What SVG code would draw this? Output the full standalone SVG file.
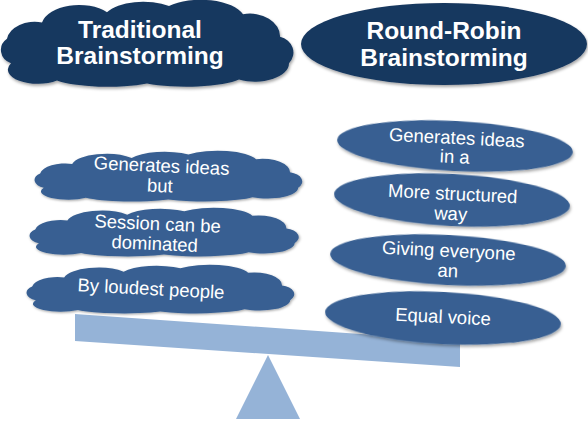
<svg xmlns="http://www.w3.org/2000/svg" width="588" height="421" viewBox="0 0 588 421">
<style>
.dark{fill:#17375E}
.mid{fill:#375F92}
.plank{fill:#95B3D7}
.title{font-family:"Liberation Sans",Arial,sans-serif;font-weight:bold;font-size:24.5px;fill:#FFFFFF;text-anchor:middle}
.body{font-family:"Liberation Sans",Arial,sans-serif;font-size:18.5px;fill:#FFFFFF;text-anchor:middle}
</style>
<defs>
<filter id="sh" x="-10%" y="-20%" width="120%" height="150%">
<feDropShadow dx="1" dy="2" stdDeviation="1.5" flood-color="#000" flood-opacity="0.35"/>
</filter>
<path id="cloud" d="M 14,60 A 16,14 0 0 1 10,36 A 28,20 0 0 1 45,20 A 38,22 0 0 1 110,10 A 40,18 0 0 1 172,4 A 44,20 0 0 1 246,12 A 30,22 0 0 1 283,34 A 18,16 0 0 1 292,60 A 34,18 0 0 1 242,76 A 58,12 0 0 1 150,80 A 58,12 0 0 1 60,77 A 30,14 0 0 1 14,60 Z"/>
</defs>
<rect width="588" height="421" fill="#FFFFFF"/>

<g id="seesaw">
<polygon class="plank" points="75,314 460,341 460,367 75,341"/>
<polygon class="plank" points="268,355 300,419 236,419"/>
</g>

<g id="traditional">
<use href="#cloud" class="dark" filter="url(#sh)" transform="translate(-3,2) scale(1,1.02)"/>
<text class="title" x="140" y="38">Traditional</text>
<text class="title" x="140" y="64">Brainstorming</text>
</g>

<g id="roundrobin">
<ellipse class="dark" filter="url(#sh)" cx="444" cy="44" rx="143" ry="41"/>
<text class="title" x="444" y="39">Round-Robin</text>
<text class="title" x="444" y="66">Brainstorming</text>
</g>

<g id="left1">
<use href="#cloud" class="mid" filter="url(#sh)" transform="translate(31,152) scale(0.915,0.595)"/>
<g transform="rotate(2.5 160 180)">
<text class="body" x="161" y="172">Generates ideas</text>
<text class="body" x="160" y="192">but</text>
</g>
</g>

<g id="left2">
<use href="#cloud" class="mid" filter="url(#sh)" transform="translate(26,209) scale(0.92,0.57)"/>
<g transform="rotate(2.5 156 238)">
<text class="body" x="157" y="230">Session can be</text>
<text class="body" x="155" y="250">dominated</text>
</g>
</g>

<g id="left3">
<use href="#cloud" class="mid" filter="url(#sh)" transform="translate(23,266) scale(0.915,0.57)"/>
<text class="body" x="151" y="295" transform="rotate(3 151 289)">By loudest people</text>
</g>

<g id="right1">
<ellipse class="mid" filter="url(#sh)" cx="455" cy="146" rx="118" ry="25" transform="rotate(3 455 146)"/>
<g transform="rotate(2.8 455 153)">
<text class="body" x="456" y="144">Generates ideas</text>
<text class="body" x="455" y="163">in a</text>
</g>
</g>

<g id="right2">
<ellipse class="mid" filter="url(#sh)" cx="452" cy="200" rx="118" ry="26" transform="rotate(3 452 200)"/>
<g transform="rotate(2.8 452 209)">
<text class="body" x="452" y="200">More structured</text>
<text class="body" x="451" y="220">way</text>
</g>
</g>

<g id="right3">
<ellipse class="mid" filter="url(#sh)" cx="448" cy="260" rx="118" ry="25" transform="rotate(3 448 260)"/>
<g transform="rotate(2.8 448 266)">
<text class="body" x="448" y="257">Giving everyone</text>
<text class="body" x="448" y="277">an</text>
</g>
</g>

<g id="right4">
<ellipse class="mid" filter="url(#sh)" cx="443" cy="318" rx="118" ry="26" transform="rotate(3 443 318)"/>
<text class="body" x="443" y="323" transform="rotate(2.8 443 318)">Equal voice</text>
</g>
</svg>
